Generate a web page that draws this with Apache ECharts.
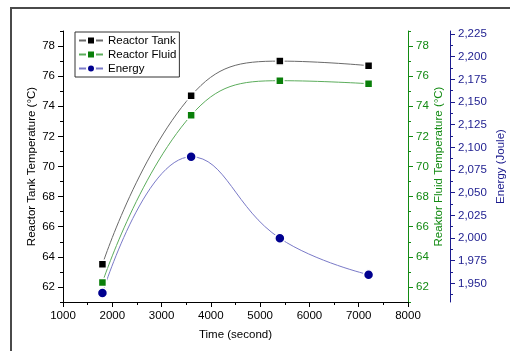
<!DOCTYPE html>
<html>
<head>
<meta charset="utf-8">
<script src="https://cdn.jsdelivr.net/npm/echarts@6/dist/echarts.min.js"></script>
<style>html,body{margin:0;padding:0;background:#fff;}#c{width:510px;height:351px;}</style>
</head>
<body>
<div id="c"></div>
<script>
var timeSec = [1800, 3600, 5400, 7200];
var tankTemp = [63.5, 74.7, 77.0, 76.7];
var fluidTemp = [62.3, 73.4, 75.7, 75.5];
var energy = [1939.4, 2089.6, 1999.7, 1959.6];

var timeTicks = [1000, 2000, 3000, 4000, 5000, 6000, 7000, 8000];
var tempTicks = [62, 64, 66, 68, 70, 72, 74, 76, 78];
var tempMinorTicks = [61, 63, 65, 67, 69, 71, 73, 75, 77, 79];
var energyTicks = [1950, 1975, 2000, 2025, 2050, 2075, 2100, 2125, 2150, 2175, 2200, 2225];
var energyMinorTicks = [1937.5, 1962.5, 1987.5, 2012.5, 2037.5, 2062.5, 2087.5, 2112.5, 2137.5, 2162.5, 2187.5, 2212.5];

var GREEN = '#128a12';
var BLUE = '#1c1c8e';
var FONT = 'Liberation Sans, Arial, sans-serif';

function pairs(ys) { return timeSec.map(function (t, i) { return [t, ys[i]]; }); }

function majorAxis(pos, color, min, max, ticks, name, nameGap, offset, fmt) {
  return {
    type: 'value', position: pos, min: min, max: max, offset: offset || 0,
    name: name, nameLocation: 'middle', nameGap: nameGap, nameMoveOverlap: false,
    nameTextStyle: { color: color, fontSize: 11.5, fontFamily: FONT },
    axisLine: { show: true, lineStyle: { color: color, width: 1 } },
    axisTick: { show: true, inside: false, length: 5, customValues: ticks, lineStyle: { color: color } },
    axisLabel: { show: true, customValues: ticks, margin: 8, color: color, fontSize: 11.5, fontFamily: FONT,
      formatter: fmt || function (v) { return String(v); } },
    splitLine: { show: false }
  };
}
function minorAxis(pos, color, min, max, ticks, offset) {
  return {
    type: 'value', position: pos, min: min, max: max, offset: offset || 0,
    axisLine: { show: false },
    axisTick: { show: true, inside: false, length: 3, customValues: ticks, lineStyle: { color: color } },
    axisLabel: { show: false },
    splitLine: { show: false }
  };
}

var chart = echarts.init(document.getElementById('c'), null, { renderer: 'canvas' });
chart.setOption({
  animation: false,
  backgroundColor: '#fff',
  textStyle: { fontFamily: FONT },
  graphic: [{
    type: 'polyline', silent: true,
    shape: { points: [[11, 351], [11, 8], [510, 8]] },
    style: { stroke: '#4a4a4a', lineWidth: 2, fill: null }
  }],
  grid: { left: 63, right: 102, top: 31, bottom: 49, outerBoundsMode: 'none', containLabel: false },
  legend: {
    orient: 'vertical', left: 75, top: 32,
    borderColor: '#333', borderWidth: 1, padding: [2, 3, 2, 3],
    itemWidth: 24, itemHeight: 10, itemGap: 1,
    textStyle: { fontSize: 11.5, color: '#000', fontFamily: FONT, lineHeight: 13 },
    data: ['Reactor Tank', 'Reactor Fluid', 'Energy']
  },
  xAxis: {
    type: 'value', min: 1000, max: 8000, interval: 1000,
    name: 'Time (second)', nameLocation: 'middle', nameGap: 27, nameMoveOverlap: false,
    nameTextStyle: { color: '#000', fontSize: 11.5, fontFamily: FONT },
    axisLine: { show: true, onZero: false, lineStyle: { color: '#000' } },
    axisTick: { show: true, inside: false, length: 5, lineStyle: { color: '#000' } },
    minorTick: { show: true, splitNumber: 2, length: 3, lineStyle: { color: '#000' } },
    axisLabel: { color: '#000', fontSize: 11.5, margin: 8, fontFamily: FONT,
      formatter: function (v) { return String(v); } },
    splitLine: { show: false }
  },
  yAxis: [
    majorAxis('left', '#000', 61, 79, tempTicks, 'Reactor Tank Temperature (°C)', 25, 0),
    minorAxis('left', '#000', 61, 79, tempMinorTicks, 0),
    majorAxis('right', GREEN, 61, 79, tempTicks, 'Reaktor Fluid Temperature (°C)', 25, 0),
    minorAxis('right', GREEN, 61, 79, tempMinorTicks, 0),
    majorAxis('right', BLUE, 1929.5, 2228.3, energyTicks, 'Energy (Joule)', 45, 42,
      function (v) { return Number(v).toLocaleString('en-US'); }),
    minorAxis('right', BLUE, 1929.5, 2228.3, energyMinorTicks, 42)
  ],
  series: [
    {
      name: 'Reactor Tank', type: 'line', yAxisIndex: 0, data: pairs(tankTemp),
      smooth: 0.45, symbol: 'rect', symbolSize: 8,
      lineStyle: { color: '#6a6a6a', width: 1 },
      itemStyle: { color: '#000', borderColor: '#fff', borderWidth: 1.5 }
    },
    {
      name: 'Reactor Fluid', type: 'line', yAxisIndex: 2, data: pairs(fluidTemp),
      smooth: 0.45, symbol: 'rect', symbolSize: 8,
      lineStyle: { color: '#5cad5c', width: 1 },
      itemStyle: { color: '#0a7f0a', borderColor: '#fff', borderWidth: 1.5 }
    },
    {
      name: 'Energy', type: 'line', yAxisIndex: 4, data: pairs(energy),
      smooth: 0.45, symbol: 'circle', symbolSize: 10,
      lineStyle: { color: '#7a7ac8', width: 1 },
      itemStyle: { color: '#00008f', borderColor: '#fff', borderWidth: 1.5 }
    }
  ]
});
</script>
</body>
</html>
